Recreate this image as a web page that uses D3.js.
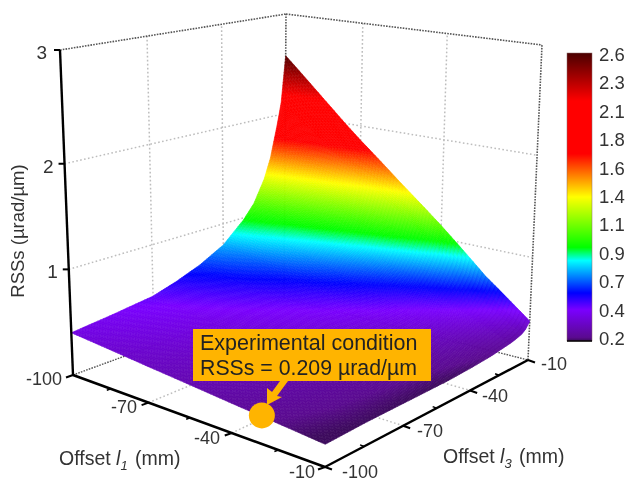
<!DOCTYPE html>
<html lang="en">
<head>
<meta charset="UTF-8">
<title>RSSs surface</title>
<script src="https://d3js.org/d3.v7.min.js"></script>
<style>
  html, body { margin: 0; padding: 0; background: #fff; }
  svg { display: block; filter: blur(0.45px); }
  .surface { filter: blur(0.6px); }
  text { font-family: "Liberation Sans", Arial, sans-serif; fill: #333; }
</style>
</head>
<body>
<svg id="chart" width="627" height="482"></svg>
<script>
// surface values
const l1Values = [-100, -85, -70, -55, -40, -25, -10];
const l3Values = [-100, -85, -70, -60, -50, -40, -30, -25, -20, -17, -14, -12, -10];
// one row per l1, one column per l3
const rssValues = [
  [0.40, 0.44, 0.49, 0.56, 0.65, 0.78, 0.98, 1.12, 1.35, 1.56, 1.88, 2.12, 2.58],
  [0.365, 0.40, 0.44, 0.50, 0.575, 0.685, 0.855, 0.97, 1.17, 1.345, 1.615, 1.82, 2.21],
  [0.33, 0.36, 0.39, 0.44, 0.50, 0.59, 0.73, 0.83, 0.985, 1.13, 1.35, 1.52, 1.85],
  [0.295, 0.32, 0.345, 0.38, 0.425, 0.495, 0.60, 0.68, 0.80, 0.915, 1.085, 1.22, 1.48],
  [0.26, 0.28, 0.30, 0.32, 0.35, 0.40, 0.475, 0.53, 0.62, 0.70, 0.82, 0.92, 1.13],
  [0.225, 0.24, 0.25, 0.26, 0.275, 0.305, 0.35, 0.385, 0.44, 0.485, 0.555, 0.62, 0.72],
  [0.19, 0.20, 0.20, 0.20, 0.20, 0.21, 0.225, 0.24, 0.255, 0.27, 0.29, 0.32, 0.38]
];

const l1Ticks = [-100, -70, -40, -10];
const l1Minor = [-85, -55, -25];
const l3Ticks = [-100, -70, -40, -10];
const l3Minor = [-85, -55, -25];
const zTicks = [1, 2, 3];

const colorbarLabels = ["2.6", "2.3", "2.1", "1.8", "1.6", "1.4", "1.1", "0.9", "0.7", "0.4", "0.2"];
const colorValues = [0.2, 0.23, 0.46, 0.6, 0.87, 0.98, 1.4, 1.76, 2.2, 2.6];
const colorStops = ["#3c0a5c", "#5a0a90", "#7a00ff", "#0000ff", "#00ffff", "#00ff00", "#ffff00", "#ff0000", "#ff0000", "#4a0000"];

const experimentL1 = -32;
const experimentL3 = -98;
const experimentRss = 0.209;

// box corners on screen: [l1 end, l3 end, z end]
const corners = {
  "000": [73, 375],  "100": [325, 467], "010": [284, 298], "110": [528, 360],
  "001": [60, 50],   "101": [329, 100], "011": [286, 14],  "111": [542, 45]
};

const u = d3.scaleLinear().domain([-100, -70, -40, -10]).range([0, 0.30, 0.63, 1]);
const v = d3.scaleLinear().domain([-100, -70, -40, -10]).range([0, 0.385, 0.715, 1]);
const w = d3.scaleLinear().domain([0, 1, 2, 3]).range([0, 0.325, 0.65, 1]);

function project(l1, l3, z) {
  const a = u(l1), b = v(l3), c = w(z);
  const out = [0, 0];
  for (let i = 0; i < 2; i++) {
    const bottom = (1 - b) * ((1 - a) * corners["000"][i] + a * corners["100"][i]) + b * ((1 - a) * corners["010"][i] + a * corners["110"][i]);
    const top = (1 - b) * ((1 - a) * corners["001"][i] + a * corners["101"][i]) + b * ((1 - a) * corners["011"][i] + a * corners["111"][i]);
    out[i] = (1 - c) * bottom + c * top;
  }
  return out;
}

const color = d3.scaleLinear().domain(colorValues).range(colorStops).clamp(true);
const svg = d3.select("#chart");
const line = d3.line();

function segment(g, p, q, stroke, width, dash) {
  g.append("path")
    .attr("d", line([p, q]))
    .attr("fill", "none")
    .attr("stroke", stroke)
    .attr("stroke-width", width)
    .attr("stroke-dasharray", dash);
}

// walls and floor
const grid = svg.append("g");
const light = "#bdbdbd", dark = "#555";
const lightDash = "1.6 2.4", darkDash = "1.6 1.2";
l3Ticks.slice(1, 3).forEach(t => {
  segment(grid, project(-100, t, 0), project(-100, t, 3), light, 1.5, lightDash);
  segment(grid, project(-100, t, 0), project(-10, t, 0), light, 1.5, lightDash);
});
l1Ticks.slice(1, 3).forEach(t => {
  segment(grid, project(t, -10, 0), project(t, -10, 3), light, 1.5, lightDash);
  segment(grid, project(t, -100, 0), project(t, -10, 0), light, 1.5, lightDash);
});
[1, 2].forEach(t => {
  segment(grid, project(-100, -100, t), project(-100, -10, t), light, 1.5, lightDash);
  segment(grid, project(-100, -10, t), project(-10, -10, t), light, 1.5, lightDash);
});
segment(grid, project(-100, -100, 3), project(-100, -10, 3), dark, 1.6, darkDash);
segment(grid, project(-100, -10, 3), project(-10, -10, 3), dark, 1.6, darkDash);
segment(grid, project(-100, -10, 0), project(-100, -10, 3), dark, 1.6, darkDash);
segment(grid, project(-10, -10, 0), project(-10, -10, 3), dark, 1.6, darkDash);
segment(grid, project(-100, -100, 0), project(-100, -10, 0), dark, 1.4, darkDash);
segment(grid, project(-100, -10, 0), project(-10, -10, 0), dark, 1.4, darkDash);

// surface, every grid cell split into small shaded quads
const steps = 14;
const quads = [];
for (let i = 0; i < l1Values.length - 1; i++) {
  for (let j = 0; j < l3Values.length - 1; j++) {
    for (let a = 0; a < steps; a++) {
      for (let b = 0; b < steps; b++) {
        const at = (s, t) => {
          const l1 = l1Values[i] + (l1Values[i + 1] - l1Values[i]) * s;
          const l3 = l3Values[j] + (l3Values[j + 1] - l3Values[j]) * t;
          const z = (1 - s) * ((1 - t) * rssValues[i][j] + t * rssValues[i][j + 1]) +
                    s * ((1 - t) * rssValues[i + 1][j] + t * rssValues[i + 1][j + 1]);
          return { p: project(l1, l3, z), z };
        };
        const c = [at(a / steps, b / steps), at((a + 1) / steps, b / steps),
                   at((a + 1) / steps, (b + 1) / steps), at(a / steps, (b + 1) / steps)];
        quads.push({ pts: c.map(d => d.p), z: d3.mean(c, d => d.z) });
      }
    }
  }
}
svg.append("g").attr("class", "surface").selectAll("path")
  .data(quads)
  .enter().append("path")
  .attr("d", d => line(d.pts) + "Z")
  .attr("fill", d => color(d.z))
  .attr("stroke", d => color(d.z))
  .attr("stroke-width", 0.6);

// axes
const axes = svg.append("g");
segment(axes, project(-100, -100, 0), project(-100, -100, 3), "#000", 2.4);
segment(axes, project(-100, -100, 0), project(-10, -100, 0), "#000", 2.6);
segment(axes, project(-10, -100, 0), project(-10, -10, 0), "#000", 2.4);

function offsetPoint(p, dx, dy) { return [p[0] + dx, p[1] + dy]; }

zTicks.forEach(t => {
  const p = project(-100, -100, t);
  segment(axes, p, offsetPoint(p, -6, 0), "#000", 2);
});
l1Ticks.forEach(t => {
  const p = project(t, -100, 0);
  segment(axes, p, offsetPoint(p, -7, 2.5), "#000", 2);
});
l1Minor.forEach(t => {
  const p = project(t, -100, 0);
  segment(axes, p, offsetPoint(p, -4, 1.5), "#000", 1.5);
});
l3Ticks.forEach(t => {
  const p = project(-10, t, 0);
  segment(axes, p, offsetPoint(p, 7, 2.5), "#000", 2);
});
l3Minor.forEach(t => {
  const p = project(-10, t, 0);
  segment(axes, p, offsetPoint(p, -4, -1.5), "#000", 1.5);
});

// tick labels
function label(x, y, s, anchor, size) {
  return svg.append("text").attr("x", x).attr("y", y).attr("text-anchor", anchor || "start")
    .attr("font-size", size || 18).text(s);
}
label(47, 59, "3", "end", 19);
zTicks.slice(0, 2).forEach(t => {
  const p = project(-100, -100, t);
  label(p[0] - 11, p[1] + 9, String(t), "end", 19);
});
const l1LabelPos = [[62, 385], [137, 413], [220, 444], [315, 478]];
l1Ticks.forEach((t, i) => label(l1LabelPos[i][0], l1LabelPos[i][1], String(t), "end"));
const l3LabelPos = [[342, 478], [417, 437], [482, 402], [541, 370]];
l3Ticks.forEach((t, i) => label(l3LabelPos[i][0], l3LabelPos[i][1], String(t), "start"));

// axis titles
function offsetTitle(x, y, sub) {
  const t = label(x, y, "Offset ", "start", 19.5);
  t.append("tspan").attr("font-style", "italic").text("l");
  t.append("tspan").attr("font-style", "italic").attr("font-size", 13).attr("dy", 5).text(sub);
  t.append("tspan").attr("dy", -5).attr("dx", 2).text(" (mm)");
}
offsetTitle(59, 465, "1");
offsetTitle(443, 463, "3");
svg.append("text").attr("transform", "translate(24,231) rotate(-90)")
  .attr("text-anchor", "middle").attr("font-size", 18.5).text("RSSs (µrad/µm)");

// colorbar
const barTop = 53, barBottom = 341, barX = 567, barW = 25;
const defs = svg.append("defs");
const grad = defs.append("linearGradient").attr("id", "bar").attr("x1", 0).attr("y1", 1).attr("x2", 0).attr("y2", 0);
colorValues.forEach((d, i) => {
  grad.append("stop").attr("offset", (d - 0.2) / 2.4).attr("stop-color", colorStops[i]);
});
svg.append("rect").attr("x", barX).attr("y", barTop).attr("width", barW).attr("height", barBottom - barTop)
  .attr("fill", "url(#bar)").attr("stroke", "#8a6a6a").attr("stroke-width", 0.5);
svg.append("line").attr("x1", barX).attr("x2", barX + barW).attr("y1", barBottom).attr("y2", barBottom)
  .attr("stroke", "#000").attr("stroke-width", 1.5);
const labelY = d3.scalePoint().domain(colorbarLabels).range([54, 338]);
colorbarLabels.forEach(s => label(599, labelY(s) + 7, s, "start", 18.5));

// callout
const callout = svg.append("g");
const spot = project(experimentL1, experimentL3, experimentRss);
callout.append("rect").attr("x", 193).attr("y", 329).attr("width", 238).attr("height", 52).attr("fill", "#ffb400");
callout.append("path").attr("d", line([[280, 381], [288, 381], [277, 396], [282, 397], [267, 405], [267, 388], [272, 392]]) + "Z").attr("fill", "#ffb400");
callout.append("circle").attr("cx", spot[0]).attr("cy", spot[1]).attr("r", 13).attr("fill", "#ffb400");
label(200, 350, "Experimental condition", "start", 21.5).style("fill", "#222");
label(200, 375, "RSSs = 0.209 µrad/µm", "start", 21.3).style("fill", "#222");
</script>
</body>
</html>
